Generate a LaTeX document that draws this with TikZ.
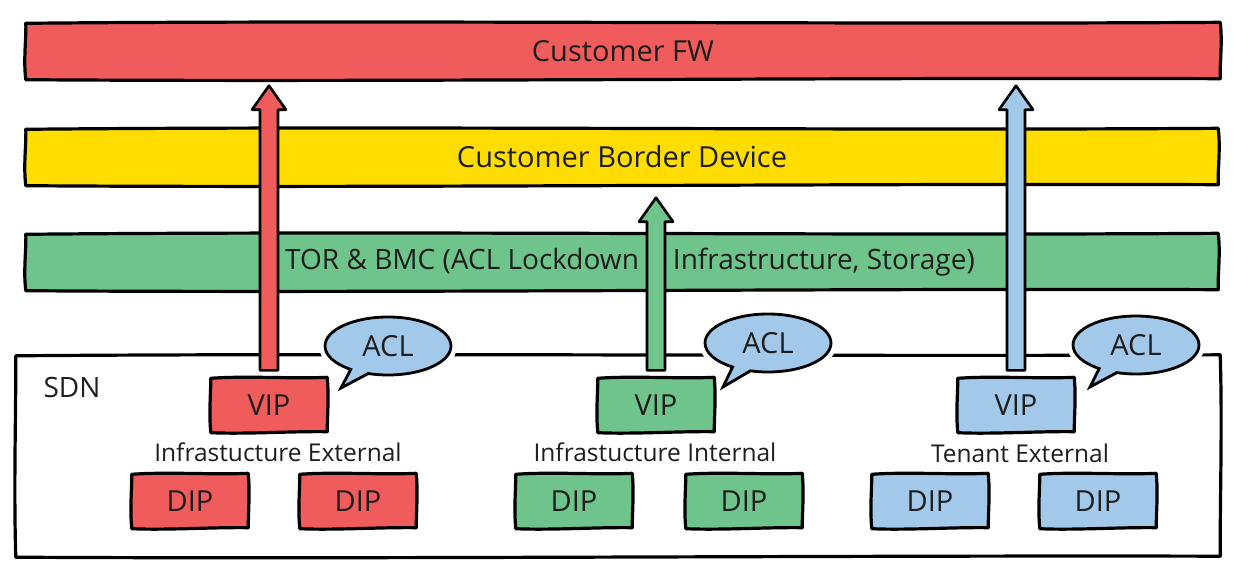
\documentclass[tikz,border=0pt]{standalone}
\usepackage{fontspec}
\setmainfont{Open Sans}
\usetikzlibrary{calc,shapes.callouts}
\definecolor{cRed}{HTML}{F05B5B}
\definecolor{cYel}{HTML}{FFDD00}
\definecolor{cGrn}{HTML}{6EC48A}
\definecolor{cBlu}{HTML}{A3C9EA}
\definecolor{txt}{HTML}{1E1E1E}
\newcommand{\fatarrow}[3]{%
  \filldraw[fill=#1, draw=black, line width=2.6pt, line join=round]
    ($(#2)+(-9,-7)$) -- ($(#3)+(-9,24)$) -- ($(#3)+(-17,24)$) -- (#3) --
    ($(#3)+(17,24)$) -- ($(#3)+(9,24)$) -- ($(#2)+(9,-7)$) -- cycle;}
% hand-drawn outline round a node
\newcommand{\skout}[2][1.6]{%
  \draw[outl]
    ($(#2.north west)+(1,1)$)
      .. controls ($(#2.north west)!.3!(#2.north east)+(0,-#1)$)
              and ($(#2.north west)!.7!(#2.north east)+(0,#1)$) .. ($(#2.north east)+(-1,0)$)
      .. controls ($(#2.north east)!.35!(#2.south east)+(#1*0.6,0)$)
              and ($(#2.north east)!.7!(#2.south east)+(-#1*0.6,0)$) .. ($(#2.south east)+(-1,-1)$)
      .. controls ($(#2.south east)!.3!(#2.south west)+(0,-#1)$)
              and ($(#2.south east)!.7!(#2.south west)+(0,#1)$) .. ($(#2.south west)+(1,0)$)
      .. controls ($(#2.south west)!.35!(#2.north west)+(-#1*0.6,0)$)
              and ($(#2.south west)!.7!(#2.north west)+(#1*0.6,0)$) .. cycle;}
\begin{document}
\begin{tikzpicture}[x=1pt,y=-1pt,
  outl/.style={draw=black, line width=3.2pt, line join=round, line cap=round},
  band/.style={minimum height=57pt, minimum width=1196pt, inner sep=0pt,
    font=\fontsize{29}{34}\selectfont, text=txt},
  box/.style={minimum width=118pt, minimum height=55pt, inner sep=0pt,
    font=\fontsize{29}{34}\selectfont, text=txt},
  sub/.style={font=\fontsize{24.5}{28}\selectfont, text=txt, inner sep=0pt},
  acl/.style={ellipse callout, draw=black, line width=2.8pt, fill=cBlu,
    minimum width=126pt, minimum height=58pt, inner sep=0pt,
    callout pointer arc=18,
    preaction={draw=white, line width=12pt},
    font=\fontsize{29}{34}\selectfont, text=txt}]
\useasboundingbox[fill=white] (0,0) rectangle (1248,570);
% SDN container
\node[minimum width=1206pt, minimum height=202pt] (sdn) at (618,456) {};
\skout[2]{sdn}
\node[font=\fontsize{28}{32}\selectfont, text=txt, inner sep=0pt] (sdnlbl) at (72,387) {SDN};
% bands
\node[band, fill=cRed] (fw) at (623,51) {};
\skout[2.5]{fw}
\node[band, fill=cYel, minimum width=1194pt] (cbd) at (622,157) {};
\skout[2.5]{cbd}
\node[band, fill=cGrn, minimum width=1194pt] (tor) at (622,262) {};
\skout[2.5]{tor}
% ACL bubbles
\node[acl, callout absolute pointer={(341,388)}] (aclR) at (388,346) {ACL};
\node[acl, callout absolute pointer={(723,387)}] (aclG) at (768,343) {ACL};
\node[acl, callout absolute pointer={(1090,387)}] (aclB) at (1136,345) {ACL};
% VIP boxes
\node[box, fill=cRed] (vipR) at (269,405) {};
\skout{vipR}
\node[box, fill=cGrn] (vipG) at (656,405) {};
\skout{vipG}
\node[box, fill=cBlu] (vipB) at (1016,405) {};
\skout{vipB}
% arrows
\coordinate (tR) at ($(vipR.north |- fw.south)+(0,6)$);
\coordinate (tG) at ($(vipG.north |- cbd.south)+(0,12)$);
\coordinate (tB) at ($(vipB.north |- fw.south)+(0,6)$);
\fatarrow{cRed}{vipR.north}{tR}
\fatarrow{cGrn}{vipG.north}{tG}
\fatarrow{cBlu}{vipB.north}{tB}
% band texts
\node[band] (fwt) at (fw) {Customer FW};
\node[band] (cbdt) at (cbd) {Customer Border Device};
\node[band, font=\fontsize{28}{33}\selectfont] (tort) at (630,262) {TOR \& BMC (ACL Lockdown\hspace{34pt}Infrastructure, Storage)};
\node[box] (vipRt) at (vipR) {VIP};
\node[box] (vipGt) at (vipG) {VIP};
\node[box] (vipBt) at (vipB) {VIP};
% group labels
\node[sub] (lblR) at (278,452) {Infrastucture External};
\node[sub] (lblG) at (655,452) {Infrastucture Internal};
\node[sub] (lblB) at (1020,453) {Tenant External};
% DIP boxes
\node[box, fill=cRed] (dipR1) at (190,501) {DIP}; \skout{dipR1}
\node[box, fill=cRed] (dipR2) at (358,501) {DIP}; \skout{dipR2}
\node[box, fill=cGrn] (dipG1) at (574,501) {DIP}; \skout{dipG1}
\node[box, fill=cGrn] (dipG2) at (744,501) {DIP}; \skout{dipG2}
\node[box, fill=cBlu] (dipB1) at (930,501) {DIP}; \skout{dipB1}
\node[box, fill=cBlu] (dipB2) at (1098,501) {DIP}; \skout{dipB2}
\end{tikzpicture}
\end{document}
